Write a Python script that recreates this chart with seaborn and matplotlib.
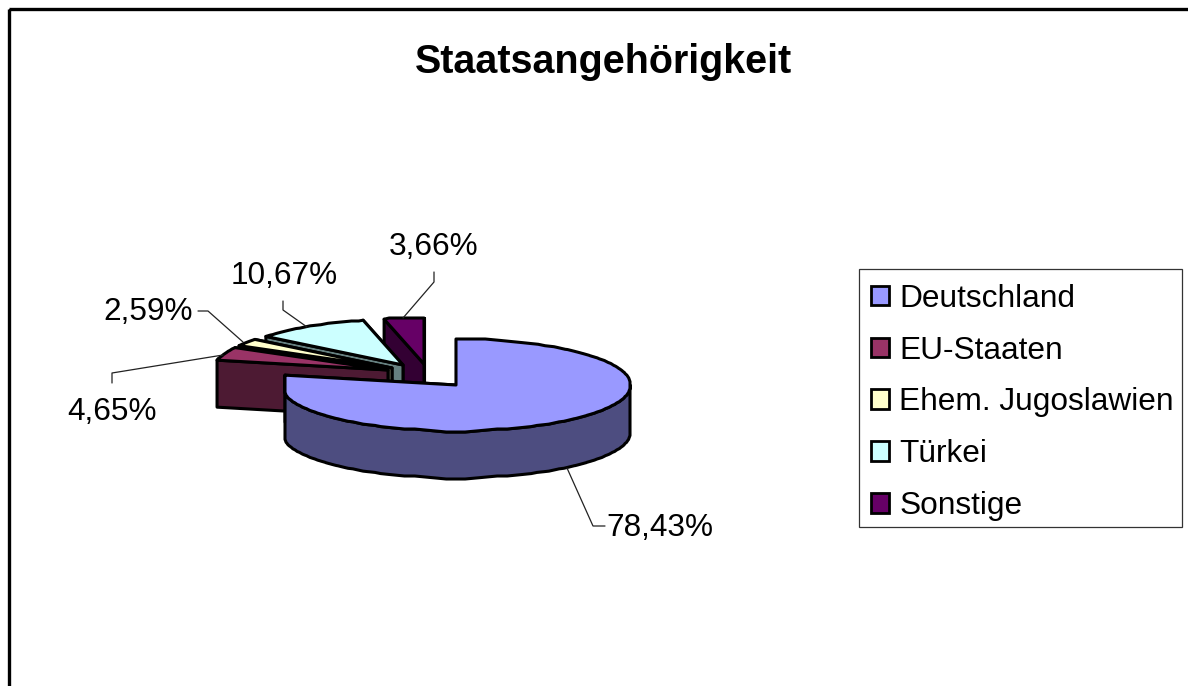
import numpy as np
import matplotlib
matplotlib.use("Agg")
import matplotlib.pyplot as plt
from matplotlib.patches import Patch, Polygon, Rectangle
import seaborn as sns

# ----------------------------------------------------------
# DATA
# ----------------------------------------------------------

labels = ["Deutschland", "EU-Staaten", "Ehem. Jugoslawien", "Türkei", "Sonstige"]
values = [78.43, 4.65, 2.59, 10.67, 3.66]
colors = ["#9999FF", "#993366", "#FFFFCC", "#CCFFFF", "#660066"]

# ----------------------------------------------------------
# LAYOUT (axes run in image pixels)
# ----------------------------------------------------------

centers = [(456, 385), (388, 370), (392, 368), (403, 365), (424, 364)]
rx, ry, depth = 175, 46, 47
lw = 2.2
grid = 3  # the rim of the original is a coarse, wavy outline

label_pos = [(660, 528), (112, 412), (148, 312), (284, 276), (434, 247)]
leaders = [
    [(567, 468), (593, 526), (605, 526)],
    [(223, 355), (112, 373), (112, 383)],
    [(243, 342), (208, 311), (198, 311)],
    [(307, 327), (283, 310), (283, 301)],
    [(403, 318), (434, 282), (434, 272)],
]

sns.set_theme(style="white")
plt.rcParams["font.family"] = ["Liberation Sans", "DejaVu Sans"]
palette = sns.color_palette(colors)

fig, ax = plt.subplots(figsize=(11.88, 6.86), dpi=100)
ax.set_position([0, 0, 1, 1])
ax.set_xlim(0, 1188)
ax.set_ylim(686, 0)
ax.axis("off")

ax.add_patch(Rectangle((9, 9), 1400, 900, fill=False, edgecolor="black", lw=2.4))


def rim(center, a0, a1):
    # angles run clockwise from 12 o'clock
    n = max(int((a1 - a0) * 2), 8)
    t = np.radians(np.linspace(a0, a1, n))
    x = center[0] + rx * np.sin(t)
    y = center[1] - ry * np.cos(t)
    if a0 < 270 < a1:
        x = np.maximum(x, x[-1])
    return np.column_stack([x, y])


def wavy(points):
    # snap to a coarse grid and soften, ends stay where they are
    snapped = np.round(points / grid) * grid
    win = 21
    pad = win // 2
    out = points.copy()
    if len(points) > win:
        kernel = np.ones(win) / win
        for k in range(2):
            padded = np.pad(snapped[:, k], pad, mode="edge")
            out[:, k] = np.convolve(padded, kernel, mode="valid")
        out[0], out[-1] = points[0], points[-1]
    return out


def extrude(points):
    low = points + [0, depth]
    return np.vstack([points, low[::-1]])


def face(points, color, z):
    ax.add_patch(Polygon(points, closed=True, facecolor=color, edgecolor="black",
                         lw=lw, joinstyle="round", zorder=z))


# ----------------------------------------------------------
# SLICES, back to front
# ----------------------------------------------------------

starts = np.cumsum([0] + values[:-1]) * 3.6
spans = np.array(values) * 3.6
draw_order = [4, 3, 2, 1, 0]

for z, i in enumerate(draw_order):
    c = np.array(centers[i], dtype=float)
    a0, a1 = starts[i], starts[i] + spans[i]
    dark = tuple(v * 0.5 for v in palette[i])
    arc = wavy(rim(c, a0, a1))
    z = 2 + z * 2

    face(extrude(np.array([c, arc[-1]])), dark, z)
    face(extrude(np.array([c, arc[0]])), dark, z)

    front0, front1 = max(a0, 90), min(a1, 285)
    if front1 > front0 and a1 > 90 and a0 < 270:
        side = arc[(np.linspace(a0, a1, len(arc)) >= front0)]
        face(extrude(side), dark, z)

    face(np.vstack([c, arc]), palette[i], z + 1)

# ----------------------------------------------------------
# TEXT
# ----------------------------------------------------------

ax.text(603, 62, "Staatsangehörigkeit", ha="center", va="center",
        fontsize=28.45, fontweight="bold", color="black")

for value, pos, line in zip(values, label_pos, leaders):
    text = f"{value:.2f}%".replace(".", ",")
    ax.text(pos[0], pos[1], text, ha="center", va="center", fontsize=22.7, color="black")
    xs, ys = zip(*line)
    ax.plot(xs, ys, color="#222222", lw=0.9, zorder=20)

handles = [Patch(facecolor=col, edgecolor="black", lw=2, label=lab)
           for col, lab in zip(palette, labels)]
ax.add_patch(Rectangle((859, 269), 323, 258, facecolor="white", edgecolor="#333333",
                       lw=0.9, zorder=29))
legend = ax.legend(
    handles=handles,
    loc="upper left",
    bbox_to_anchor=(858, 271),
    bbox_transform=ax.transData,
    borderaxespad=0,
    fontsize=22.8,
    frameon=False,
    handlelength=0.57,
    handleheight=0.57,
    handletextpad=0.34,
    labelspacing=0.69,
    borderpad=0.4,
    labelcolor="black",
)
legend.set_zorder(30)

fig.savefig("out.png", dpi=100, facecolor="white")
